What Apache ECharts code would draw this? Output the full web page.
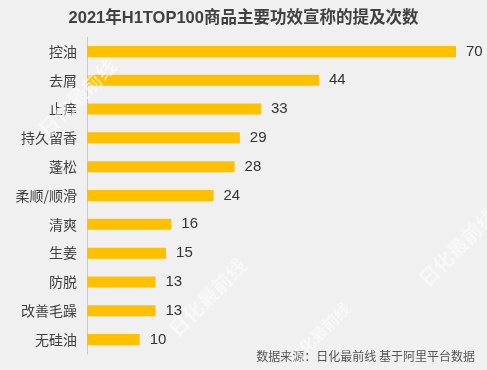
<!DOCTYPE html>
<html><head><meta charset="utf-8">
<script src="https://cdn.jsdelivr.net/npm/echarts@6/dist/echarts.min.js"></script>
<style>html,body{margin:0;padding:0;background:#f0f0f0}#c{width:487px;height:370px}</style>
</head><body><div id="c"></div>
<script>
const titleText = '2021年H1TOP100商品主要功效宣称的提及次数';
const categories = ['控油','去屑','止痒','持久留香','蓬松','柔顺/顺滑','清爽','生姜','防脱','改善毛躁','无硅油'];
const values = [70,44,33,29,28,24,16,15,13,13,10];
const sourceText = '数据来源：日化最前线 基于阿里平台数据';
const watermark = '日化最前线';
const font = '"Liberation Sans", "Noto Sans CJK SC", sans-serif';
const cjk = '"Noto Sans CJK SC", sans-serif';
const wm = (l, t, s) => ({type: 'text', left: l, top: t, rotation: Math.PI/4, z: 100,
  style: {text: watermark, fontFamily: cjk, fontSize: s, fontWeight: 'bold', fill: 'rgba(255,255,255,0.5)'}});
const chart = echarts.init(document.getElementById('c'));
chart.setOption({
  backgroundColor: '#f0f0f0',
  animation: false,
  title: {text: titleText, left: 'center', top: 5,
    textStyle: {fontFamily: font, fontSize: 16.5, fontWeight: 'bold', color: '#404040'}},
  grid: {left: 87, right: 31, top: 37, bottom: 16, containLabel: false},
  xAxis: {type: 'value', min: 0, max: 70, show: false},
  yAxis: {type: 'category', data: categories, inverse: true,
    axisLine: {show: true, lineStyle: {color: '#c8c8c8', width: 1}},
    axisTick: {show: false},
    axisLabel: {fontFamily: cjk, fontSize: 14, color: '#404040', margin: 10}},
  series: [{type: 'bar', data: values, barWidth: 11,
    itemStyle: {color: '#FFC000'},
    label: {show: true, position: 'right', distance: 10, fontFamily: font, fontSize: 15, color: '#333'}}],
  graphic: [
    {type: 'text', right: 12, top: 350, style: {text: sourceText, fontFamily: cjk, fontSize: 12, fill: '#555'}},
    wm(35, 55, 20),
    wm(165, 255, 20),
    wm(415, 205, 20),
    wm(285, 300, 16)
  ]
});
</script></body></html>
